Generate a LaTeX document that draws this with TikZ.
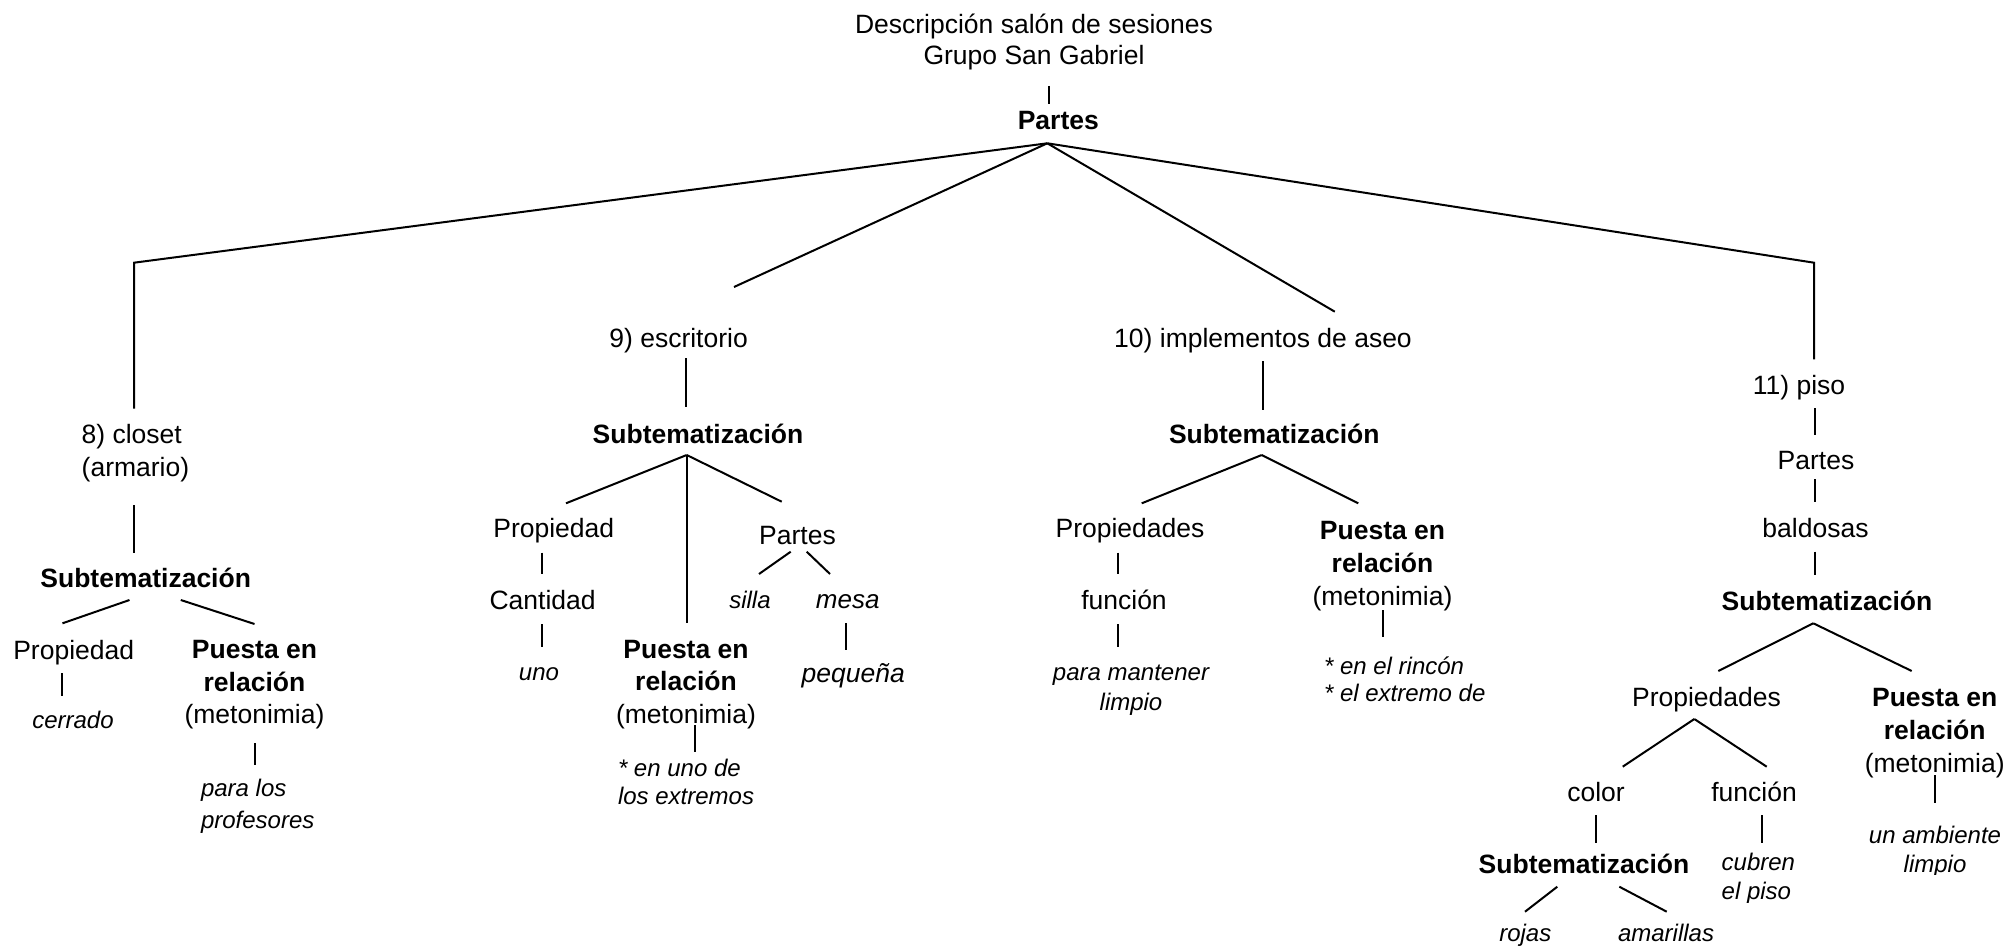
\documentclass[tikz,border=0pt]{standalone}
\usepackage{fontspec}
\setmainfont{Liberation Sans}
\newcommand\fsz[2]{\fontsize{#1}{#2}\selectfont}
\newcommand\ctab[1]{\begin{tabular}[t]{@{}c@{}}#1\end{tabular}}
\newcommand\ltab[1]{\begin{tabular}[t]{@{}l@{}}#1\end{tabular}}
\tikzset{
  lbl/.style={inner sep=0pt, outer sep=0pt, anchor=base, font=\fsz{26.5}{32}},
  hd/.style={lbl, font=\fsz{26.5}{32.5}\bfseries},
  rel/.style={lbl, font=\fsz{26.5}{#1}}, rel/.default=32.5,
  ex/.style={lbl, font=\fsz{24}{#1}\itshape}, ex/.default=30,
  exl/.style={ex=#1, anchor=base west}, exl/.default=30,
  conn/.style={line width=2pt}
}
\begin{document}
\begin{tikzpicture}[x=1pt, y=-1pt]
\useasboundingbox[fill=white] (0,0) rectangle (2015,947);

% ---------- root ----------
\node[lbl, font=\fsz{26.5}{31.5}] (title) at (1034,33.5) {\ctab{Descripción salón de sesiones\\Grupo San Gabriel}};
\node[hd] (root) at (1058.3,129) {Partes};

% ---------- 8) closet ----------
\node[lbl, anchor=base west, font=\fsz{26.5}{33}] (closet) at (81.7,443.5) {\ltab{8) closet\\(armario)}};
\node[hd] (sub8) at (145.7,587) {Subtematización};
\node[lbl] (prop8) at (73.7,659) {Propiedad};
\node[ex] (cerr) at (73,728) {cerrado};
\node[rel] (pr8) at (254.5,658.5) {\ctab{\bfseries Puesta en\\\bfseries relación\\(metonimia)}};
\node[exl=31.7] (prof) at (201,796.7) {\ltab{para los\\profesores}};

% ---------- 9) escritorio ----------
\node[lbl] (esc) at (678.6,347) {9) escritorio};
\node[hd] (sub9) at (698,443) {Subtematización};
\node[lbl] (prop9) at (553.8,537.5) {Propiedad};
\node[lbl] (cant) at (542.6,609) {Cantidad};
\node[ex] (uno) at (539,680) {uno};
\node[rel] (pr9) at (686,658.3) {\ctab{\bfseries Puesta en\\\bfseries relación\\(metonimia)}};
\node[exl=28.5] (ext9) at (618,776) {\ltab{* en uno de\\{}los extremos}};
\node[lbl] (partes9) at (797.5,544) {Partes};
\node[ex] (silla) at (750,608) {silla};
\node[lbl, font=\fsz{26}{32}\itshape] (mesa) at (847.7,608) {mesa};
\node[lbl, font=\fsz{26.5}{32}\itshape] (peq) at (853.3,682) {pequeña};

% ---------- 10) implementos de aseo ----------
\node[lbl] (impl) at (1263,347) {10) implementos de aseo};
\node[hd] (sub10) at (1274.3,443) {Subtematización};
\node[lbl] (prop10) at (1130,537.5) {Propiedades};
\node[lbl] (func10) at (1124,609) {función};
\node[ex] (mant) at (1131,680) {\ctab{para mantener\\limpio}};
\node[rel=33] (pr10) at (1382.5,539) {\ctab{\bfseries Puesta en\\\bfseries relación\\(metonimia)}};
\node[exl=26.7] (rinc) at (1324,674.7) {\ltab{* en el rincón\\{}* el extremo de}};

% ---------- 11) piso ----------
\node[lbl] (piso) at (1799,394) {11) piso};
\begin{scope}
  \clip (1760,440) rectangle (1870,470.5);
  \node[lbl] (partes11) at (1816,469) {Partes};
\end{scope}
\node[lbl] (bald) at (1815.5,537.3) {baldosas};
\node[hd] (sub11) at (1827,610) {Subtematización};
\node[lbl] (prop11) at (1706.5,706.7) {Propiedades};
\node[rel=33] (pr11) at (1934.7,706.7) {\ctab{\bfseries Puesta en\\\bfseries relación\\(metonimia)}};
\begin{scope}
  \clip (1860,815) rectangle (2015,874.5);
  \node[ex=29] (amb) at (1935,843) {\ctab{un ambiente\\limpio}};
\end{scope}
\node[lbl] (color) at (1596,801.7) {color};
\node[lbl] (func11) at (1754,801.7) {función};
\node[hd] (sub12) at (1584,873.3) {Subtematización};
\node[ex] (rojas) at (1525.3,941.5) {rojas};
\node[ex] (amar) at (1666,941.5) {amarillas};
\begin{scope}
  \clip (1710,845) rectangle (1810,902);
  \node[exl=29.5] (cub) at (1721.7,870) {\ltab{cubren\\el piso}};
\end{scope}

% ---------- connector end points ----------
\coordinate (c0a) at (1049.3,86);   \coordinate (c0b) at (1049.3,104);
\coordinate (r0) at (1047.3,143.3);
\coordinate (k8) at (134,262.7);    \coordinate (e8) at (134,408.5);
\coordinate (e9) at (734,287);
\coordinate (e10) at (1334.8,311.7);
\coordinate (k11) at (1814,262.7);  \coordinate (e11) at (1814,359.3);

\coordinate (a8a) at (134,505);     \coordinate (a8b) at (134,552.7);
\coordinate (s8l1) at (129.5,600);  \coordinate (s8l2) at (62.5,623.3);
\coordinate (s8r1) at (180.8,600);  \coordinate (s8r2) at (254.5,624);
\coordinate (p8a) at (61.6,673);    \coordinate (p8b) at (61.6,696);
\coordinate (q8a) at (254.5,743);   \coordinate (q8b) at (254.5,765);

\coordinate (a9a) at (686,358);     \coordinate (a9b) at (686,407.3);
\coordinate (r9) at (686.7,455);    \coordinate (l9) at (566,503.3);
\coordinate (m9) at (686.7,623.3);  \coordinate (rr9) at (781.7,501.7);
\coordinate (p9a) at (542.4,552.7); \coordinate (p9b) at (542.4,574.3);
\coordinate (c9a) at (542.4,624);   \coordinate (c9b) at (542.4,646.7);
\coordinate (q9a) at (695,725);     \coordinate (q9b) at (695,751.7);
\coordinate (t9l1) at (790.7,551.7);\coordinate (t9l2) at (759,574);
\coordinate (t9r1) at (806.7,551.7);\coordinate (t9r2) at (830,574);
\coordinate (m9a) at (846,623.3);   \coordinate (m9b) at (846,650);

\coordinate (a10a) at (1262.7,361); \coordinate (a10b) at (1262.7,410);
\coordinate (r10) at (1261.7,455);  \coordinate (l10) at (1141.7,503.3);
\coordinate (rr10) at (1358.3,503.3);
\coordinate (p10a) at (1118.3,552.7);\coordinate (p10b) at (1118.3,574.3);
\coordinate (f10a) at (1118.3,624); \coordinate (f10b) at (1118.3,646.7);
\coordinate (q10a) at (1383.3,610); \coordinate (q10b) at (1383.3,636.7);

\coordinate (a11a) at (1815,408.3); \coordinate (a11b) at (1815,435);
\coordinate (b11a) at (1815,479.3); \coordinate (b11b) at (1815,502.3);
\coordinate (d11a) at (1815,551.7); \coordinate (d11b) at (1815,575);
\coordinate (r11) at (1813.3,623.3);\coordinate (l11) at (1718.3,671);
\coordinate (rr11) at (1911.7,671);
\coordinate (r12) at (1694.3,719);  \coordinate (l12) at (1622.7,766.7);
\coordinate (rr12) at (1766.7,766.7);
\coordinate (q11a) at (1935,775);   \coordinate (q11b) at (1935,803.3);
\coordinate (c11a) at (1596,815);   \coordinate (c11b) at (1596,842.7);
\coordinate (f11a) at (1762,815);   \coordinate (f11b) at (1762,842.7);
\coordinate (s12l1) at (1557.3,886.7);\coordinate (s12l2) at (1525,911.7);
\coordinate (s12r1) at (1619.3,886.7);\coordinate (s12r2) at (1666.7,911.7);

% ---------- connectors ----------
\draw[conn] (c0a) -- (c0b);
\draw[conn] (r0) -- (k8) -- (e8);
\draw[conn] (r0) -- (e9);
\draw[conn] (r0) -- (e10);
\draw[conn] (r0) -- (k11) -- (e11);

\draw[conn] (a8a) -- (a8b);
\draw[conn] (s8l1) -- (s8l2);
\draw[conn] (s8r1) -- (s8r2);
\draw[conn] (p8a) -- (p8b);
\draw[conn] (q8a) -- (q8b);

\draw[conn] (a9a) -- (a9b);
\draw[conn] (r9) -- (l9);
\draw[conn] (r9) -- (m9);
\draw[conn] (r9) -- (rr9);
\draw[conn] (p9a) -- (p9b);
\draw[conn] (c9a) -- (c9b);
\draw[conn] (q9a) -- (q9b);
\draw[conn] (t9l1) -- (t9l2);
\draw[conn] (t9r1) -- (t9r2);
\draw[conn] (m9a) -- (m9b);

\draw[conn] (a10a) -- (a10b);
\draw[conn] (r10) -- (l10);
\draw[conn] (r10) -- (rr10);
\draw[conn] (p10a) -- (p10b);
\draw[conn] (f10a) -- (f10b);
\draw[conn] (q10a) -- (q10b);

\draw[conn] (a11a) -- (a11b);
\draw[conn] (b11a) -- (b11b);
\draw[conn] (d11a) -- (d11b);
\draw[conn] (r11) -- (l11);
\draw[conn] (r11) -- (rr11);
\draw[conn] (r12) -- (l12);
\draw[conn] (r12) -- (rr12);
\draw[conn] (q11a) -- (q11b);
\draw[conn] (c11a) -- (c11b);
\draw[conn] (f11a) -- (f11b);
\draw[conn] (s12l1) -- (s12l2);
\draw[conn] (s12r1) -- (s12r2);
\end{tikzpicture}
\end{document}
